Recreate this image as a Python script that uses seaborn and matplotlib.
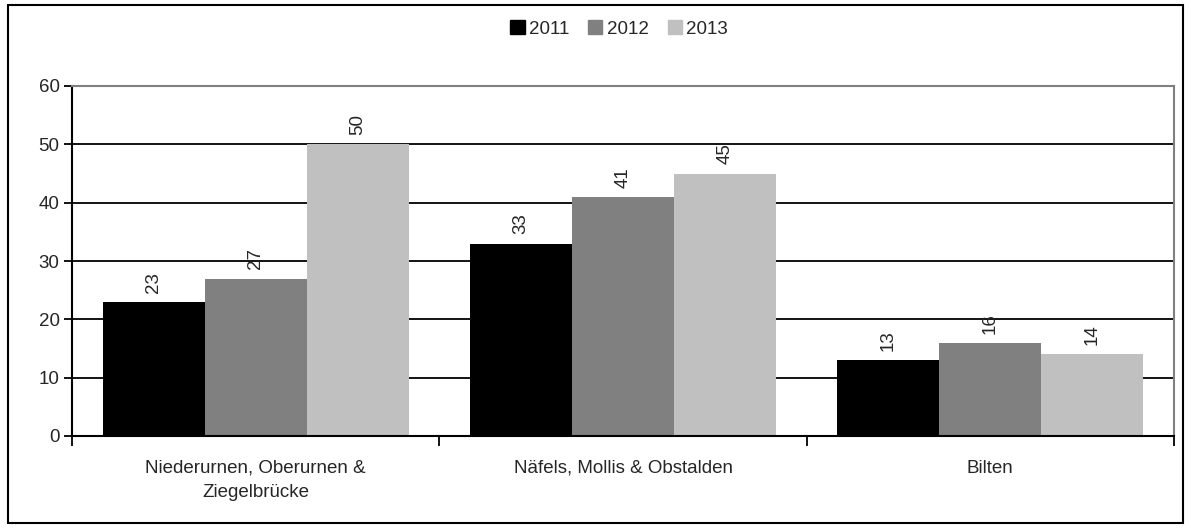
import pandas as pd
import matplotlib
matplotlib.use("Agg")
import matplotlib.pyplot as plt
import matplotlib.patches as mpatches
import seaborn as sns

regions = ["Niederurnen, Oberurnen &\nZiegelbrücke", "Näfels, Mollis & Obstalden", "Bilten"]
years = ["2011", "2012", "2013"]
values_2011 = [23, 33, 13]
values_2012 = [27, 41, 16]
values_2013 = [50, 45, 14]
colors = ["#000000", "#808080", "#c0c0c0"]

df = pd.DataFrame({
    "region": regions * 3,
    "year": [y for y in years for _ in regions],
    "value": values_2011 + values_2012 + values_2013,
})

sns.set_style("white")
plt.rcParams["font.family"] = ["Liberation Sans", "DejaVu Sans"]
fs = 13.5

fig = plt.figure(figsize=(11.91, 5.31), dpi=100)
ax = fig.add_axes([72 / 1191, 1 - 436 / 531, (1174 - 72) / 1191, (436 - 86) / 531])

sns.barplot(data=df, x="region", y="value", hue="year", palette=colors,
            width=0.833, saturation=1, ax=ax, legend=False, linewidth=0)

ax.set_ylim(0, 60)
ax.set_xlim(-0.5, 2.5)
ax.set_yticks(range(0, 61, 10))
ax.yaxis.grid(True, color="black", linewidth=1.3)
ax.set_axisbelow(True)
ax.tick_params(axis="y", which="major", direction="out", length=6, width=1.3,
               color="black", labelsize=fs, pad=3, left=True)

# category boundaries as major ticks, names on minor ticks
ax.set_xticks([-0.5, 0.5, 1.5, 2.5])
ax.set_xticklabels([])
ax.set_xticks([0, 1, 2], minor=True)
ax.set_xticklabels(regions, minor=True, linespacing=1.55)
ax.tick_params(axis="x", which="major", direction="out", length=7, width=1.3,
               color="black", bottom=True)
ax.tick_params(axis="x", which="minor", length=0, labelsize=fs, pad=17)
ax.set_xlabel("")
ax.set_ylabel("")

for side in ["left", "bottom"]:
    ax.spines[side].set_color("black")
    ax.spines[side].set_linewidth(1.5)
for side in ["top", "right"]:
    ax.spines[side].set_color("#808080")
    ax.spines[side].set_linewidth(1.5)

for container in ax.containers:
    ax.bar_label(container, rotation=90, padding=6.5, fontsize=fs)

handles = [mpatches.Patch(color=c, label=y) for c, y in zip(colors, years)]
fig.legend(handles=handles, loc="center", bbox_to_anchor=(0.52, 1 - 29 / 531),
           ncol=3, frameon=False, fontsize=fs, handlelength=0.75,
           handleheight=0.75, handletextpad=0.25, columnspacing=1.0)

fig.patches.append(mpatches.Rectangle((8 / 1191, 8 / 531), 1175 / 1191, 518 / 531,
                                      transform=fig.transFigure, fill=False,
                                      edgecolor="black", linewidth=1.5))

fig.savefig("out.png", dpi=100)
